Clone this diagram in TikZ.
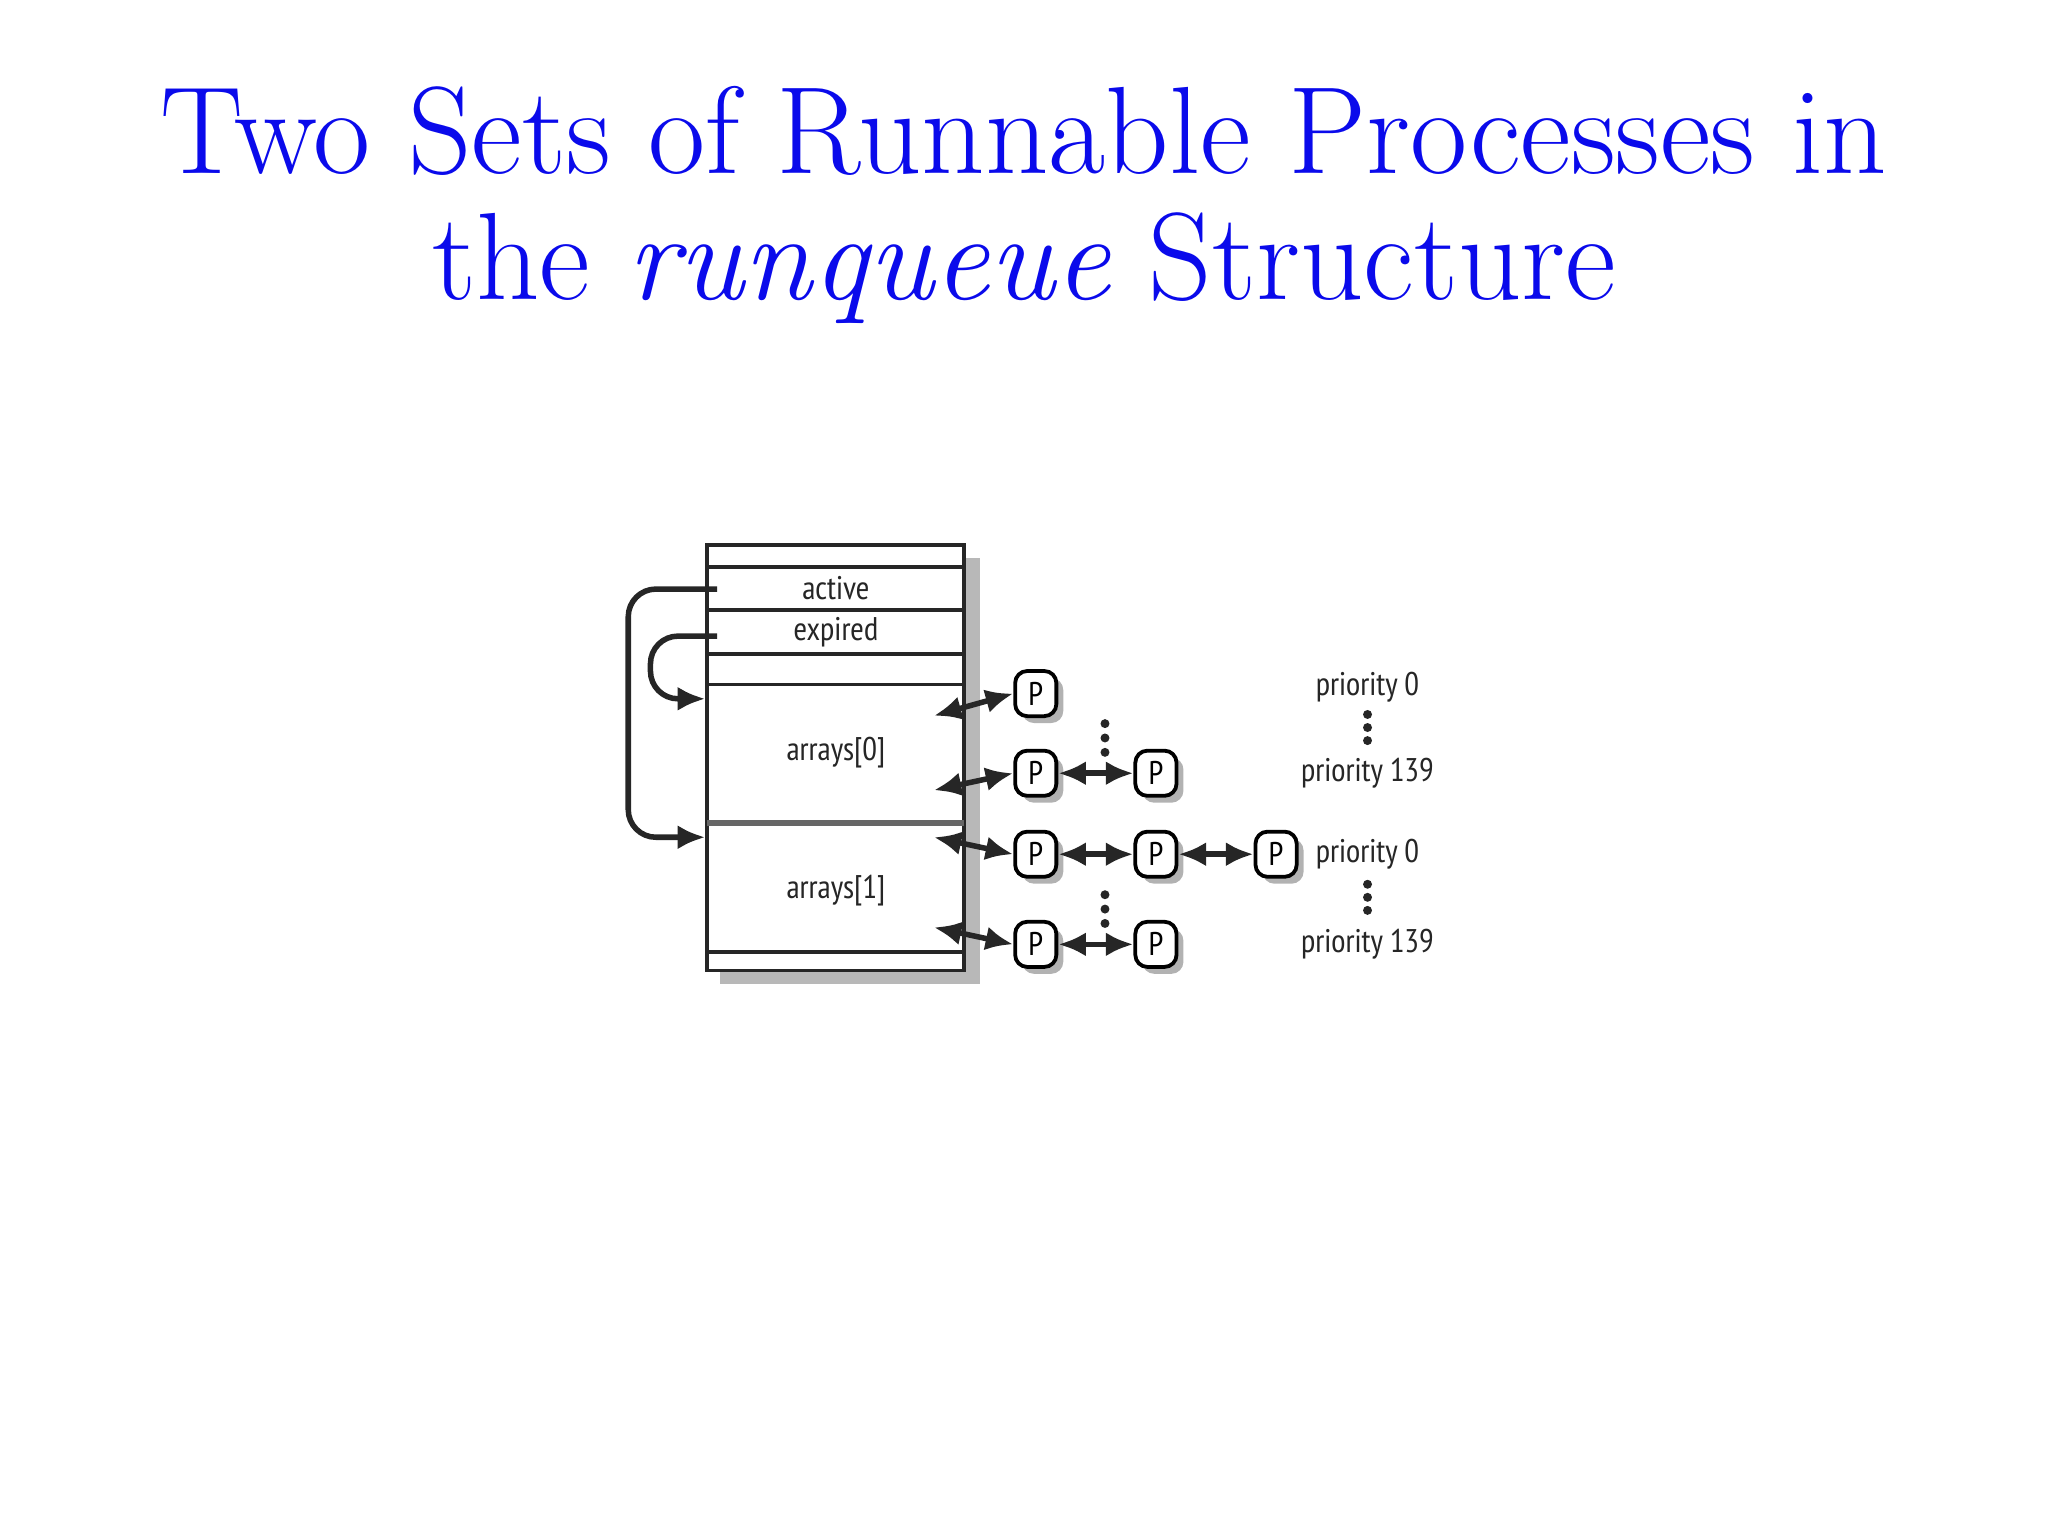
\documentclass[tikz,border=0pt]{standalone}
\usepackage{fontspec}
\newfontfamily\diag{PT Sans Narrow}
\usetikzlibrary{arrows.meta,shadows}
\definecolor{ttl}{RGB}{10,10,235}
\begin{document}
\begin{tikzpicture}[x=0.0133cm,y=-0.0133cm,
  lbl/.style={font=\diag\fontsize{9.5}{11}\selectfont, text=black!85, inner sep=0},
  pn/.style={draw, line width=1.1pt, rounded corners=3.5pt, fill=white, minimum width=0.42cm, minimum height=0.46cm, inner sep=0, font=\diag\fontsize{9.5}{11}\selectfont,
    drop shadow={shadow xshift=2pt, shadow yshift=-2pt, fill=black!30, opacity=1}},
  con/.style={line width=1.6pt, black!85, {Latex[length=8pt,width=7pt]}-{Latex[length=8pt,width=7pt]}},
  lnk/.style={line width=1.6pt, black!85, rounded corners=8pt, -{Latex[length=8pt,width=7pt]}},
  hl/.style={line width=1.1pt, black!85},
  dot/.style={circle, fill=black!85, inner sep=0, minimum size=2.6pt}]
\useasboundingbox (0,0) rectangle (1568,1176);
\node[text=ttl, font=\fontsize{36}{43}\selectfont] (t1) at (784,100) {Two Sets of Runnable Processes in};
\node[text=ttl, font=\fontsize{36}{43}\selectfont] (t2) at (784,205) {the \textit{runqueue} Structure};
% box shadow
\fill[black!28] (551,427) rectangle (750,753);
\fill[white] (541,417) rectangle (738,743);
\draw[hl] (541,417) rectangle (738,743);
\foreach \yy in {434,467,501,524,729} \draw[hl] (541,\yy) -- (738,\yy);
\draw[line width=1.6pt, black!60] (541,630) -- (738,630);
\node[lbl] (act) at (640,450) {active};
\node[lbl] (exp) at (640,484) {expired};
\node[lbl] (a0) at (640,576) {arrays[0]};
\node[lbl] (a1) at (640,682) {arrays[1]};
\coordinate (actL) at (549,451);
\coordinate (expL) at (549,487);
\coordinate (a0in) at (540,535);
\coordinate (a1in) at (540,641);
\draw[lnk] (actL) -- (481,451) -- (481,641) -- (a1in);
\draw[lnk] (expL) -- (498,487) -- (498,535) -- (a0in);
\node[pn] (p1) at (793,531) {P};
\node[pn] (p2) at (793,592) {P};
\node[pn] (p3) at (885,592) {P};
\node[pn] (p4) at (793,654) {P};
\node[pn] (p5) at (885,654) {P};
\node[pn] (p6) at (977,654) {P};
\node[pn] (p7) at (793,723) {P};
\node[pn] (p8) at (885,723) {P};
\coordinate (s1) at (715,548);
\coordinate (s2) at (715,605);
\coordinate (s3) at (715,641);
\coordinate (s4) at (715,710);
\draw[con] (s1) -- (p1.west);
\draw[con] (s2) -- (p2.west);
\draw[con] (s3) -- (p4.west);
\draw[con] (s4) -- (p7.west);
\draw[con] (p2) -- (p3);
\draw[con] (p4) -- (p5);
\draw[con] (p5) -- (p6);
\draw[con] (p7) -- (p8);
\foreach \yy in {554,565,576,685,696,707} \node[dot] at (846,\yy) {};
\foreach \yy in {547,557,567,677,687,697} \node[dot] at (1047,\yy) {};
\node[lbl] (r1) at (1047,526) {priority 0};
\node[lbl] (r2) at (1047,592) {priority 139};
\node[lbl] (r3) at (1047,654) {priority 0};
\node[lbl] (r4) at (1047,723) {priority 139};
\end{tikzpicture}
\end{document}
